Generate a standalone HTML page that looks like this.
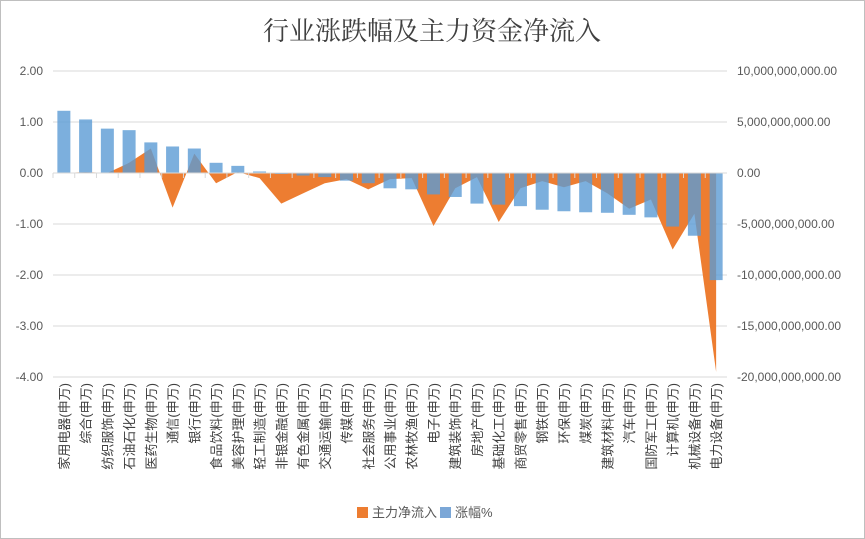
<!DOCTYPE html>
<html><head><meta charset="utf-8"><style>
html,body{margin:0;padding:0;background:#fff;}
svg{display:block;font-family:"Liberation Sans","Noto Sans CJK SC",sans-serif;}
</style></head><body>
<svg id="chart" width="865" height="539" viewBox="0 0 865 539">
<rect x="0.5" y="0.5" width="864" height="538" fill="#fff" stroke="#bfbfbf"/>
<text x="432" y="40" text-anchor="middle" font-size="26" fill="#404040" style="font-family:'Liberation Serif','Noto Serif CJK SC',serif">行业涨跌幅及主力资金净流入</text>
<g id="grid"></g><g id="area"></g><g id="bars"></g><g id="axes"></g>
<g>
<rect x="357" y="507" width="11" height="11" fill="#ED7D31"/>
<text x="372" y="517" font-size="13" fill="#595959">主力净流入</text>
<rect x="440" y="507" width="11" height="11" fill="#7BA7D7"/>
<text x="455" y="517" font-size="13" fill="#595959">涨幅%</text>
</g>
</svg>
<script>
const categories=["家用电器(申万)","综合(申万)","纺织服饰(申万)","石油石化(申万)","医药生物(申万)","通信(申万)","银行(申万)","食品饮料(申万)","美容护理(申万)","轻工制造(申万)","非银金融(申万)","有色金属(申万)","交通运输(申万)","传媒(申万)","社会服务(申万)","公用事业(申万)","农林牧渔(申万)","电子(申万)","建筑装饰(申万)","房地产(申万)","基础化工(申万)","商贸零售(申万)","钢铁(申万)","环保(申万)","煤炭(申万)","建筑材料(申万)","汽车(申万)","国防军工(申万)","计算机(申万)","机械设备(申万)","电力设备(申万)"];
const changePct=[1.22,1.05,0.87,0.84,0.60,0.52,0.48,0.20,0.14,0.03,-0.01,-0.05,-0.08,-0.15,-0.20,-0.30,-0.32,-0.42,-0.47,-0.60,-0.62,-0.65,-0.72,-0.75,-0.77,-0.78,-0.82,-0.87,-1.05,-1.23,-2.10];
const inflow=[0,0.1e9,0,1.0e9,2.4e9,-3.4e9,1.9e9,-1.0e9,0.1e9,-0.5e9,-3.0e9,-2.0e9,-1.0e9,-0.6e9,-1.6e9,-0.6e9,-0.5e9,-5.2e9,-1.5e9,-0.4e9,-4.8e9,-1.5e9,-0.8e9,-1.4e9,-0.8e9,-2.0e9,-3.5e9,-2.6e9,-7.5e9,-4.0e9,-19.5e9];
const leftTicks=[2,1,0,-1,-2,-3,-4];
const rightTicks=[10e9,5e9,0,-5e9,-10e9,-15e9,-20e9];
const NS="http://www.w3.org/2000/svg";
const X0=53,X1=727,Y0=71,Y1=377;
const bw=(X1-X0)/categories.length;
const yL=v=>Y0+(2-v)/6*(Y1-Y0);
const yR=v=>Y0+(10e9-v)/30e9*(Y1-Y0);
const xc=i=>X0+bw*(i+0.5);
function mk(tag,attrs,parent){const e=document.createElementNS(NS,tag);for(const k in attrs)e.setAttribute(k,attrs[k]);document.getElementById(parent).appendChild(e);return e;}
leftTicks.forEach((t,i)=>{
 const g=mk('line',{x1:X0,x2:X1,y1:yL(t),y2:yL(t),stroke:'#d9d9d9','stroke-width':1},'grid');
 
 
 const l=mk('text',{x:43,y:yL(t)+4,'text-anchor':'end','font-size':12,fill:'#595959'},'axes');l.textContent=t.toFixed(2);
 
 
});
rightTicks.forEach(t=>{
 const l=mk('text',{x:737,y:yR(t)+4,'font-size':12,fill:'#595959'},'axes');
 l.textContent=t.toLocaleString('en-US',{minimumFractionDigits:2});
 
 
});
let pts=`${xc(0)},${yR(0)} `;
inflow.forEach((v,i)=>{pts+=`${xc(i)},${yR(v)} `;});
pts+=`${xc(inflow.length-1)},${yR(0)}`;
const ar=mk('polygon',{points:pts,fill:'#ED7D31'},'area');


changePct.forEach((v,i)=>{
 const y=Math.min(yL(v),yL(0)),h=Math.abs(yL(v)-yL(0));
 const r=mk('rect',{x:xc(i)-6.5,y:y,width:13,height:Math.max(h,1),fill:'#5B9BD5','fill-opacity':0.8},'bars');
 
 
});
const zl=mk('line',{x1:X0,x2:X1,y1:yL(0),y2:yL(0),stroke:'#d9d9d9'},'axes');


categories.forEach((c,i)=>{
 const tk=mk('line',{x1:X0+bw*i,x2:X0+bw*i,y1:yL(0),y2:yL(0)+5,stroke:'#d9d9d9'},'axes');
 
 
 const t=mk('text',{x:0,y:0,'text-anchor':'end','font-size':13,fill:'#404040',transform:`translate(${xc(i)+5},383) rotate(-90)`},'axes');
 t.textContent=c;
 
 
});
</script>
</body></html>
